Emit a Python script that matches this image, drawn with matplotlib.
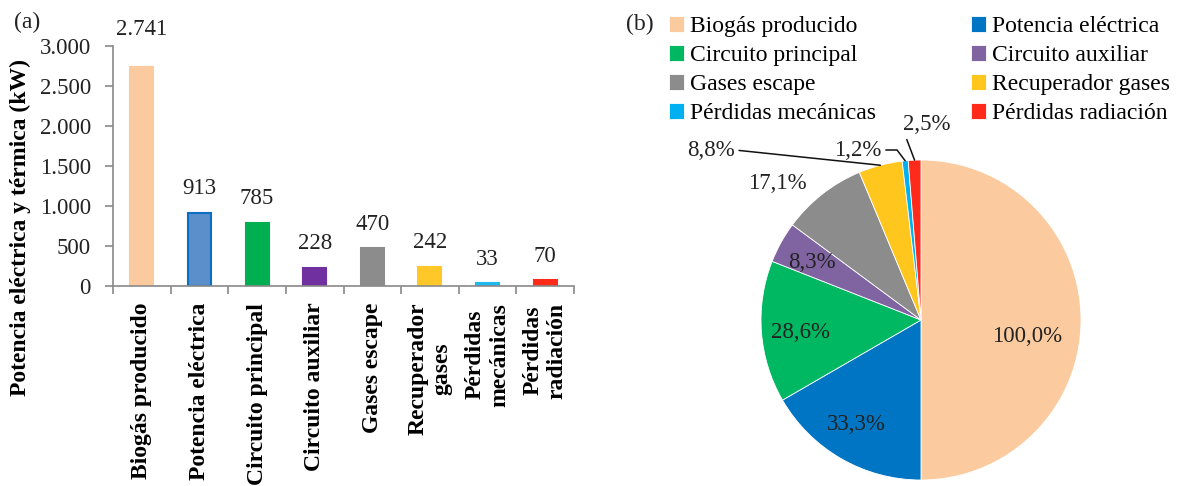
import numpy as np
import matplotlib
matplotlib.use("Agg")
import matplotlib.pyplot as plt
from matplotlib.ticker import FuncFormatter, FixedLocator

plt.rcParams['font.family'] = ['Liberation Serif', 'DejaVu Serif']

# ---- data ----
categories = ["Biogás producido", "Potencia eléctrica", "Circuito principal",
              "Circuito auxiliar", "Gases escape", "Recuperador gases",
              "Pérdidas mecánicas", "Pérdidas radiación"]
bar_ticklabels = ["Biogás producido", "Potencia eléctrica", "Circuito principal",
                  "Circuito auxiliar", "Gases escape", "Recuperador\ngases",
                  "Pérdidas\nmecánicas", "Pérdidas\nradiación"]
power_kw = [2741, 913, 785, 228, 470, 242, 33, 70]
pie_pct = [100.0, 33.3, 28.6, 8.3, 17.1, 8.8, 1.2, 2.5]
y_ticks = [0, 500, 1000, 1500, 2000, 2500, 3000]

bar_colors = ["#FBCB9F", "#5B8FCB", "#00B050", "#7030A0", "#8C8C8C",
              "#FFC828", "#1FB8EF", "#FF2A1A"]
bar_edges = ["#FBCB9F", "#0A6FC0", "#00B050", "#7030A0", "#8C8C8C",
             "#FFC828", "#1FB8EF", "#FF2A1A"]
pie_colors = ["#FBCB9F", "#0075C4", "#00B862", "#8064A2", "#8C8C8C",
              "#FFC61E", "#00B0F0", "#FF2A1A"]

W, H = 1184, 486
fig = plt.figure(figsize=(W / 100, H / 100), dpi=100)

# ---- (a) bar chart ----
ax = fig.add_axes([113 / W, 1 - 286 / H, (574 - 113) / W, (286 - 46) / H])
x = np.arange(len(categories))
bars = ax.bar(x, power_kw, width=0.4, color=bar_colors, edgecolor=bar_edges,
              linewidth=1.5)
ax.set_xlim(-0.5, len(categories) - 0.5)
ax.set_ylim(0, 3000)
ax.set_yticks(y_ticks)
ax.yaxis.set_major_formatter(FuncFormatter(lambda v, p: f"{int(v):,}".replace(",", ".")))
for s in ("top", "right"):
    ax.spines[s].set_visible(False)
for s in ("left", "bottom"):
    ax.spines[s].set_color("#898989")
    ax.spines[s].set_linewidth(1.2)
ax.tick_params(axis="y", length=6, width=1.2, color="#898989", pad=10,
               labelsize=16.5, labelcolor="#222222")
ax.set_xticks(x)
ax.set_xticklabels(bar_ticklabels, rotation=90, va="top", ha="center",
                   multialignment="center", fontweight="bold", fontsize=17)
ax.tick_params(axis="x", which="major", length=0, pad=12)
ax.xaxis.set_minor_locator(FixedLocator(np.arange(-0.5, len(categories), 1)))
ax.tick_params(axis="x", which="minor", length=6, width=1.2, color="#898989")

label_offsets = [26.5, 17.5, 17.5, 17.5, 17.5, 17.5, 17.5, 17.5]
for xi, v, off in zip(x, power_kw, label_offsets):
    ax.annotate(f"{v:,}".replace(",", "."), (xi, v), xytext=(0, off),
                textcoords="offset points", ha="center", va="center",
                fontsize=16.5, color="#222222", annotation_clip=False)

fig.text(20 / W, 1 - 228 / H, "Potencia eléctrica y térmica (kW)", rotation=90,
         ha="center", va="center", fontsize=17, fontweight="bold")
fig.text(27 / W, 1 - 22 / H, "(a)", ha="center", va="center", fontsize=17,
         color="#222222")

# ---- (b) pie chart ----
cx, cy, R = 921, 320, 160
pax = fig.add_axes([(cx - R) / W, (H - cy - R) / H, 2 * R / W, 2 * R / H])
wedges, _ = pax.pie(power_kw, colors=pie_colors, startangle=90,
                    counterclock=False,
                    wedgeprops=dict(linewidth=0.6, edgecolor="white"))
pax.set_aspect("auto")
pax.set_xlim(-1, 1)
pax.set_ylim(-1, 1)

pie_texts = [f"{p:.1f}%".replace(".", ",") for p in pie_pct]
label_xy = [(0.664, -0.106), (-0.406, -0.656), (-0.75, -0.075), (-0.68, 0.3625),
            (-0.9, 0.856), (-1.3125, 1.0625), (-0.394, 1.0625), (0.0375, 1.219)]
lead = {5: dict(relpos=(1, 0.5), connectionstyle="arc3"),
        6: dict(relpos=(1, 0.5), connectionstyle="angle,angleA=0,angleB=-53,rad=0"),
        7: dict(relpos=(0.0, 0.25), connectionstyle="arc3")}
for i, (w, t, (lx, ly)) in enumerate(zip(wedges, pie_texts, label_xy)):
    if i in lead:
        mid = np.deg2rad((w.theta1 + w.theta2) / 2)
        pax.annotate(t, (np.cos(mid), np.sin(mid)), xytext=(lx, ly),
                     ha="center", va="center", fontsize=16.5, color="#222222",
                     annotation_clip=False,
                     arrowprops=dict(arrowstyle="-", color="#111111", lw=1.1,
                                     shrinkA=1, shrinkB=0, **lead[i]))
    else:
        pax.text(lx, ly, t, ha="center", va="center", fontsize=16.5,
                 color="#222222", clip_on=False)

order = [0, 2, 4, 6, 1, 3, 5, 7]
fig.legend([wedges[i] for i in order], [categories[i] for i in order],
           ncol=2, loc="upper left", bbox_to_anchor=(669 / W, 1 - 16 / H),
           frameon=False, fontsize=17, handlelength=0.65, handleheight=0.65,
           handletextpad=0.25, columnspacing=4.0, labelspacing=0.33,
           borderpad=0, borderaxespad=0)
fig.text(640 / W, 1 - 24 / H, "(b)", ha="center", va="center", fontsize=17,
         color="#222222")

fig.savefig("out.png", dpi=100)
